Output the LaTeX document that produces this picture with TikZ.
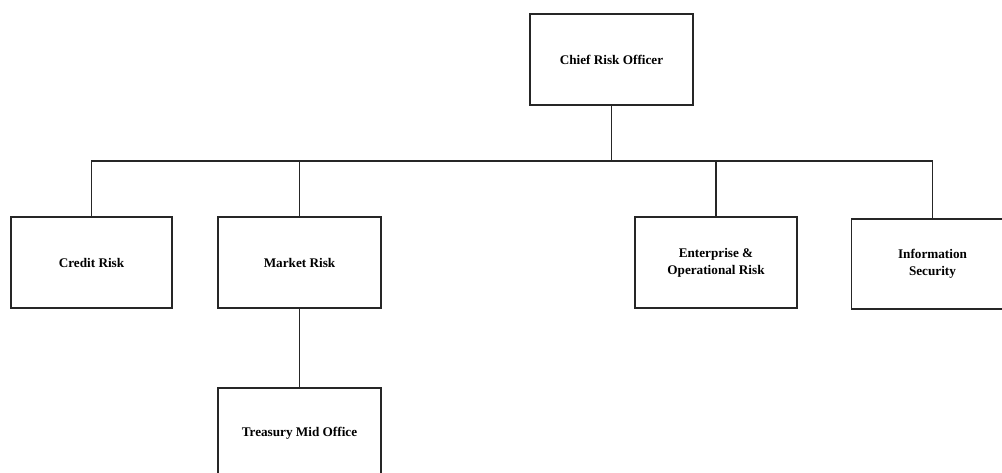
\documentclass[tikz,border=0pt]{standalone}
\usepackage{fontspec}
\setmainfont{Liberation Serif}
\begin{document}
\begin{tikzpicture}[x=0.5pt,y=-0.5pt,
  box/.style={draw=black!85,line width=0.6pt,rectangle,minimum width=81.5pt,minimum height=45.5pt,inner sep=0pt,align=center,font=\fontsize{6.6}{8.5}\selectfont\bfseries},
  link/.style={draw=black!85,line width=0.7pt}]
\clip (0,0) rectangle (1002,472);
\node[box] (cro) at (611.5,59.5) {Chief Risk Officer};
\node[box,minimum width=80.5pt] (credit) at (91.5,262.5) {Credit Risk};
\node[box] (market) at (299.5,262.5) {Market Risk};
\node[box,minimum width=81pt] (ent) at (716,262.5) {Enterprise \&\\Operational Risk};
\node[box,minimum width=81pt,minimum height=45pt] (info) at (932.5,264) {Information\\Security};
\node[box] (treas) at (299.5,433.5) {Treasury Mid Office};
\coordinate (bus) at (612,161);
\draw[link] (cro.south) -- (cro.south |- bus);
\draw[link] (credit.north) -- (credit.north |- bus) -- (info.north |- bus) -- (info.north);
\draw[link] (market.north) -- (market.north |- bus);
\draw[link] (ent.north) -- (ent.north |- bus);
\draw[link] (market.south) -- (treas.north);
\end{tikzpicture}
\end{document}
